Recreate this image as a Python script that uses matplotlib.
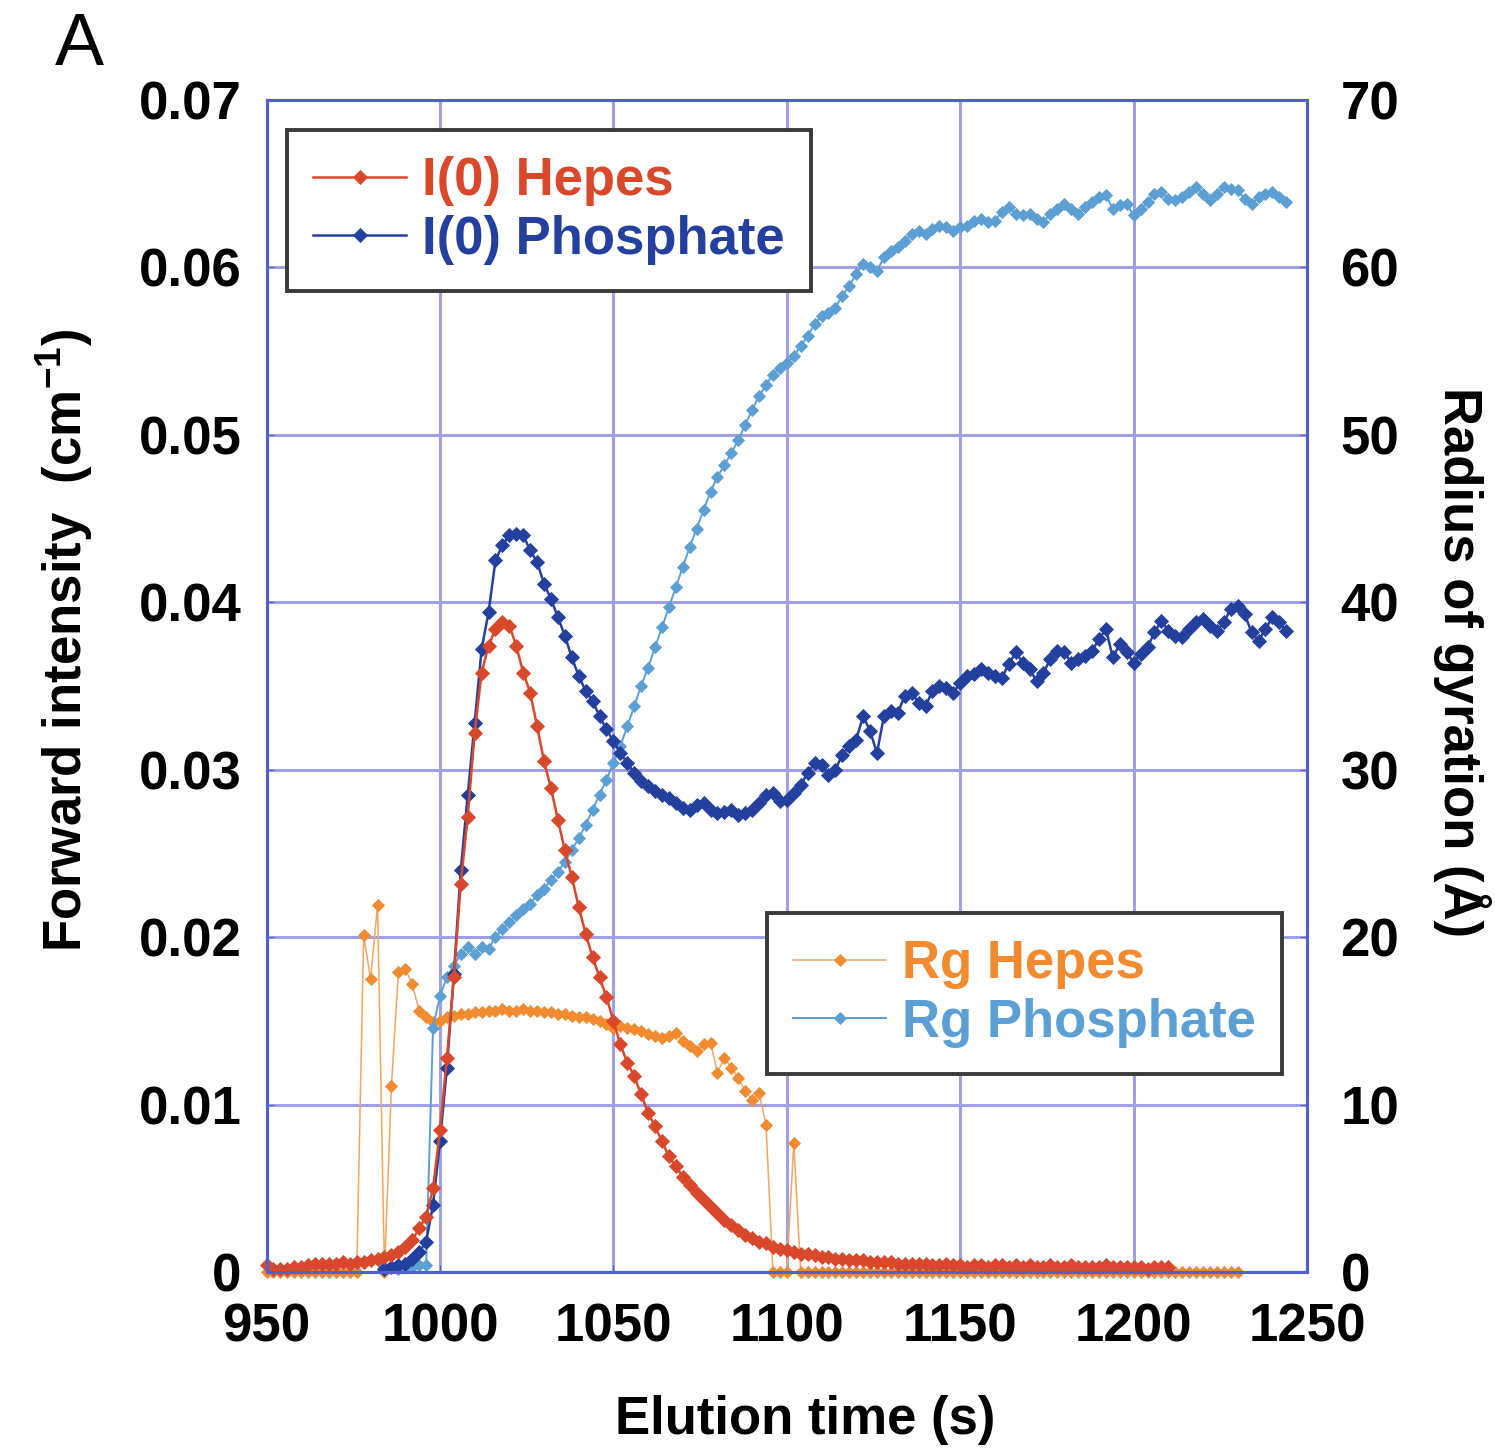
import numpy as np
import matplotlib.pyplot as plt

plt.rcParams['font.family'] = ['Liberation Sans', 'DejaVu Sans']
plt.rcParams['font.weight'] = 'bold'
plt.rcParams['mathtext.fontset'] = 'custom'
plt.rcParams['mathtext.rm'] = 'Liberation Sans:bold'
plt.rcParams['mathtext.bf'] = 'Liberation Sans:bold'

# elution time (s), one frame every 2 s
t_i0_hepes = np.arange(950, 1212, 2)
t_i0_phos = np.arange(984, 1246, 2)
t_rg_hepes = np.arange(950, 1232, 2)
t_rg_phos = np.arange(984, 1246, 2)

# forward intensity I(0), cm^-1
i0_hepes = [
    0.0004, 0.0002, 0.0002, 0.0002, 0.0003, 0.0003, 0.0004, 0.0005, 0.0005, 0.0005,
    0.0005, 0.0006, 0.0005, 0.0006, 0.0006, 0.0007, 0.0008, 0.0009, 0.0010, 0.0012,
    0.0015, 0.0019, 0.0026, 0.0033, 0.0050, 0.0085, 0.0128, 0.0176, 0.0232, 0.0272,
    0.0322, 0.0358, 0.0374, 0.0384, 0.0388, 0.0386, 0.0374, 0.0358, 0.0346, 0.0326,
    0.0305, 0.0289, 0.0270, 0.0252, 0.0236, 0.0218, 0.0202, 0.0188, 0.0176, 0.0164,
    0.0150, 0.0136, 0.0125, 0.0117, 0.0106, 0.0095, 0.0087, 0.0078, 0.0069, 0.0063,
    0.0057, 0.0052, 0.0047, 0.0043, 0.0039, 0.0035, 0.0031, 0.0028, 0.0025, 0.0022,
    0.0020, 0.0018, 0.0017, 0.0015, 0.0014, 0.0013, 0.0012, 0.0011, 0.0011, 0.0010,
    0.0009, 0.0009, 0.0008, 0.0008, 0.0007, 0.0007, 0.0007, 0.0006, 0.0006, 0.0006,
    0.0006, 0.0005, 0.0005, 0.0005, 0.0005, 0.0005, 0.0004, 0.0004, 0.0005, 0.0004,
    0.0004, 0.0003, 0.0004, 0.0004, 0.0003, 0.0004, 0.0004, 0.0003, 0.0004, 0.0003,
    0.0004, 0.0003, 0.0003, 0.0004, 0.0003, 0.0003, 0.0004, 0.0003, 0.0003, 0.0003,
    0.0003, 0.0004, 0.0003, 0.0003, 0.0003, 0.0003, 0.0003, 0.0002, 0.0003, 0.0003,
    0.0003,
]
i0_phos = [
    0.0002, 0.0003, 0.0004, 0.0005, 0.0008, 0.0012, 0.0018, 0.0040, 0.0078, 0.0122,
    0.0178, 0.0240, 0.0285, 0.0328, 0.0372, 0.0394, 0.0425, 0.0434, 0.0440, 0.0441,
    0.0440, 0.0431, 0.0424, 0.0411, 0.0402, 0.0391, 0.0380, 0.0367, 0.0356, 0.0347,
    0.0341, 0.0332, 0.0324, 0.0317, 0.0310, 0.0304, 0.0298, 0.0293, 0.0290, 0.0287,
    0.0285, 0.0283, 0.0280, 0.0277, 0.0276, 0.0279, 0.0280, 0.0276, 0.0274, 0.0275,
    0.0276, 0.0273, 0.0274, 0.0276, 0.0280, 0.0285, 0.0286, 0.0281, 0.0282, 0.0286,
    0.0291, 0.0298, 0.0304, 0.0303, 0.0297, 0.0300, 0.0309, 0.0314, 0.0318, 0.0332,
    0.0323, 0.0310, 0.0332, 0.0335, 0.0334, 0.0344, 0.0346, 0.0340, 0.0338, 0.0347,
    0.0350, 0.0349, 0.0346, 0.0352, 0.0356, 0.0357, 0.0360, 0.0358, 0.0356, 0.0355,
    0.0363, 0.0370, 0.0364, 0.0360, 0.0353, 0.0358, 0.0366, 0.0371, 0.0370, 0.0364,
    0.0366, 0.0368, 0.0371, 0.0378, 0.0384, 0.0367, 0.0375, 0.0370, 0.0364, 0.0369,
    0.0373, 0.0382, 0.0389, 0.0383, 0.0380, 0.0379, 0.0384, 0.0388, 0.0390, 0.0386,
    0.0383, 0.0388, 0.0396, 0.0398, 0.0393, 0.0382, 0.0377, 0.0384, 0.0391, 0.0388,
    0.0383,
]

# radius of gyration Rg, angstrom (0 where the fit failed)
rg_hepes = [
    0, 0, 0, 0, 0, 0, 0, 0, 0, 0,
    0, 0, 0, 0, 20.1, 17.5, 21.9, 0, 11.1, 17.9,
    18.1, 17.2, 15.6, 15.2, 14.9, 15.0, 15.2, 15.3, 15.4, 15.4,
    15.5, 15.5, 15.6, 15.6, 15.7, 15.6, 15.6, 15.7, 15.6, 15.6,
    15.5, 15.5, 15.4, 15.4, 15.3, 15.2, 15.2, 15.1, 15.0, 14.8,
    14.6, 14.7, 14.6, 14.5, 14.4, 14.2, 14.1, 14.0, 14.1, 14.3,
    13.8, 13.5, 13.2, 13.6, 13.7, 11.9, 12.8, 12.2, 11.6, 10.8,
    10.3, 10.7, 8.8, 0, 0, 0, 7.7, 0, 0, 0,
    0, 0, 0, 0, 0, 0, 0, 0, 0, 0,
    0, 0, 0, 0, 0, 0, 0, 0, 0, 0,
    0, 0, 0, 0, 0, 0, 0, 0, 0, 0,
    0, 0, 0, 0, 0, 0, 0, 0, 0, 0,
    0, 0, 0, 0, 0, 0, 0, 0, 0, 0,
    0, 0, 0, 0, 0, 0, 0, 0, 0, 0,
    0,
]
rg_phos = [
    0.3, 0.3, 0.2, 0.3, 0.3, 0.4, 0.4, 14.6, 16.5, 17.6,
    18.3, 19.0, 19.4, 19.0, 19.4, 19.3, 20.0, 20.5, 20.9, 21.3,
    21.7, 22.0, 22.5, 22.9, 23.4, 23.9, 24.5, 25.2, 25.9, 26.7,
    27.6, 28.5, 29.4, 30.4, 31.4, 32.6, 33.8, 35.0, 36.1, 37.3,
    38.5, 39.7, 40.9, 42.1, 43.3, 44.4, 45.5, 46.6, 47.5, 48.2,
    48.9, 49.7, 50.6, 51.5, 52.3, 53.0, 53.6, 54.0, 54.3, 54.7,
    55.3, 55.9, 56.6, 57.1, 57.3, 57.6, 58.3, 58.9, 59.6, 60.2,
    60.0, 59.8, 60.6, 61.0, 61.2, 61.6, 62.0, 62.2, 62.0, 62.3,
    62.5, 62.4, 62.2, 62.4, 62.5, 62.8, 62.9, 62.7, 62.8, 63.3,
    63.6, 63.2, 63.1, 63.2, 62.9, 62.7, 63.2, 63.5, 63.8, 63.5,
    63.2, 63.6, 63.9, 64.2, 64.3, 63.5, 63.7, 63.8, 63.1, 63.5,
    63.9, 64.4, 64.5, 64.1, 64.0, 64.2, 64.5, 64.8, 64.4, 64.0,
    64.4, 64.8, 64.7, 64.6, 64.1, 63.8, 64.2, 64.4, 64.5, 64.2,
    63.9,
]

x_ticks = [950, 1000, 1050, 1100, 1150, 1200, 1250]
i0_ticks = [0, 0.01, 0.02, 0.03, 0.04, 0.05, 0.06, 0.07]
i0_labels = ['0', '0.01', '0.02', '0.03', '0.04', '0.05', '0.06', '0.07']
rg_ticks = [0, 10, 20, 30, 40, 50, 60, 70]

red = '#d9482a'
navy = '#24409e'
orange = '#f28b2f'
sky = '#5b9fd4'
grid_col = '#a0a0e6'
frame_col = '#5060cc'
fs = 38

fig = plt.figure(figsize=(14.95, 14.55), dpi=100)
base = fig.add_axes([0.1783, 0.1258, 0.696, 0.8055])   # Rg, right axis
top = base.twinx()                                     # I(0), left axis
base.set_zorder(1)
top.set_zorder(2)
top.patch.set_visible(False)

base.yaxis.tick_right()
base.yaxis.set_label_position('right')
top.yaxis.tick_left()
top.yaxis.set_label_position('left')

mk = dict(marker='D', markeredgewidth=0.6, clip_on=False)

h_rg_hep, = base.plot(t_rg_hepes, rg_hepes, color='#f5a561', lw=1.1, markersize=6.0,
                      markerfacecolor=orange, markeredgecolor=orange,
                      label='Rg Hepes', **mk)
h_rg_pho, = base.plot(t_rg_phos, rg_phos, color=sky, lw=1.4, markersize=6.3,
                      markerfacecolor=sky, markeredgecolor=sky,
                      label='Rg Phosphate', **mk)
h_i0_pho, = top.plot(t_i0_phos, i0_phos, color=navy, lw=1.8, markersize=7.0,
                     markerfacecolor=navy, markeredgecolor=navy,
                     label='I(0) Phosphate', **mk)
h_i0_hep, = top.plot(t_i0_hepes, i0_hepes, color=red, lw=1.8, markersize=7.0,
                     markerfacecolor=red, markeredgecolor=red,
                     label='I(0) Hepes', **mk)

base.set_xlim(950, 1250)
base.set_ylim(0, 70)
top.set_ylim(0, 0.07)

base.set_xticks(x_ticks)
base.set_xticklabels([str(v) for v in x_ticks], fontsize=fs, fontweight='bold')
base.set_yticks(rg_ticks)
base.set_yticklabels([str(v) for v in rg_ticks], fontsize=fs, fontweight='bold')
top.set_yticks(i0_ticks)
top.set_yticklabels(i0_labels, fontsize=fs, fontweight='bold')

base.grid(True, color=grid_col, lw=2.2)
base.set_axisbelow(True)

base.tick_params(axis='x', direction='in', length=5, color=frame_col, pad=22)
base.tick_params(axis='y', direction='in', length=5, color=frame_col, pad=24)
top.tick_params(axis='y', direction='in', length=5, color=frame_col, pad=18)
for a in (base, top):
    for s in a.spines.values():
        s.set_color(frame_col)
        s.set_linewidth(2.2)

base.set_xlabel('Elution time (s)', fontsize=fs, fontweight='bold')
base.xaxis.set_label_coords(0.5175, -0.105)
top.set_ylabel(r'Forward intensity  (cm$^{-1}$)', fontsize=fs, fontweight='bold')
top.yaxis.set_label_coords(-0.165, 0.539)
base.set_ylabel('Radius of gyration (Å)', fontsize=fs, fontweight='bold',
                rotation=-90, va='bottom')
base.yaxis.set_label_coords(1.121, 0.52)

leg_kw = dict(loc='upper left', bbox_transform=fig.transFigure, borderaxespad=0,
              prop={'size': fs, 'weight': 'bold'}, handlelength=1.75,
              handletextpad=0.3, labelspacing=0.16, borderpad=0.5,
              fancybox=False, framealpha=1, edgecolor='#3a3a3a')
leg1 = top.legend(handles=[h_i0_hep, h_i0_pho], bbox_to_anchor=(287 / 1495, 1 - 130 / 1455),
                  labelcolor=[red, navy], **leg_kw)
leg1.get_frame().set_linewidth(2.8)
top.add_artist(leg1)
leg2 = top.legend(handles=[h_rg_hep, h_rg_pho], bbox_to_anchor=(767 / 1495, 1 - 913 / 1455),
                  labelcolor=[orange, sky], **leg_kw)
leg2.get_frame().set_linewidth(2.8)

fig.text(55 / 1495, 1 - 65 / 1455, 'A', fontsize=53, fontweight='normal',
         ha='left', va='baseline')

fig.savefig('out.png', dpi=100)
